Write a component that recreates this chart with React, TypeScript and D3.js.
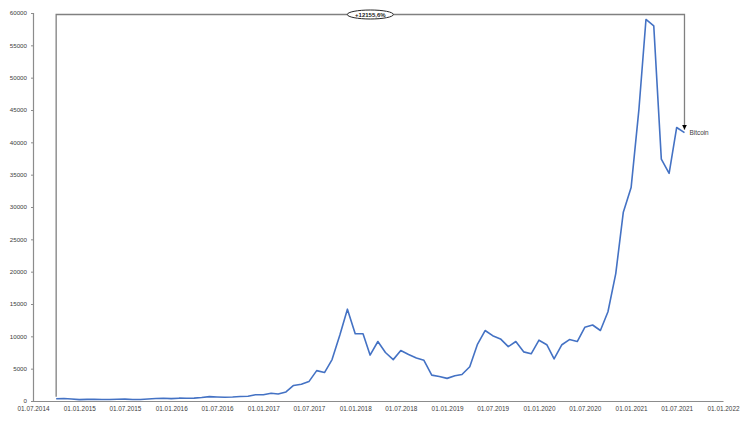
import React, { useEffect, useRef } from 'react';
import * as d3 from 'd3';

// monthly points, first one is Oct 2014
const startMonth = '2014-10-01';
const btcValues = [
  338.62, 378, 320, 217, 254, 244, 236, 230, 263, 284, 230, 236,
  314, 377, 430, 368, 437, 416, 448, 531, 673, 624, 575, 609,
  701, 742, 964, 970, 1190, 1080, 1400, 2400, 2600, 3000, 4700, 4400,
  6400, 10200, 14200, 10400, 10400, 7100, 9200, 7500, 6400, 7800, 7200, 6650,
  6300, 4000, 3800, 3500, 3900, 4100, 5300, 8700, 10900, 10100, 9600, 8400,
  9200, 7600, 7300, 9400, 8700, 6500, 8700, 9500, 9200, 11400, 11750, 10900,
  13800, 19700, 29200, 33000, 45100, 59000, 58000, 37400, 35200, 42300, 41500,
];
const seriesName = 'Bitcoin';
const yTicks = [0, 5000, 10000, 15000, 20000, 25000, 30000, 35000, 40000, 45000, 50000, 55000, 60000];
const xDomain = ['2014-07-01', '2022-01-01'];

const App: React.FC = () => {
  const ref = useRef<SVGSVGElement | null>(null);

  useEffect(() => {
    if (!ref.current) return;
    const svg = d3.select(ref.current);
    svg.selectAll('*').remove();

    const parse = d3.timeParse('%Y-%m-%d');
    const start = parse(startMonth) as Date;
    const data = btcValues.map((v, i) => ({ date: d3.timeMonth.offset(start, i), value: v }));

    const left = 33, right = 723, top = 13, bottom = 401;
    const x = d3.scaleTime()
      .domain(xDomain.map((d) => parse(d) as Date))
      .range([left, right]);
    const y = d3.scaleLinear().domain([0, 60000]).range([bottom, top]);

    const font = '"Liberation Sans", Arial, sans-serif';

    // y axis
    const yAxis = svg.append('g')
      .attr('transform', `translate(${left},0)`)
      .call(d3.axisLeft(y).tickValues(yTicks).tickSize(2).tickPadding(4).tickFormat(d3.format('d')));
    yAxis.select('.domain').attr('stroke', '#8c8c8c').attr('stroke-width', 1.2);
    yAxis.selectAll('.tick line').attr('stroke', '#8c8c8c');
    yAxis.selectAll('text')
      .style('font-family', font)
      .style('font-size', '6.2px')
      .attr('fill', '#404040');

    // x axis
    const xAxis = svg.append('g')
      .attr('transform', `translate(0,${bottom})`)
      .call(d3.axisBottom(x).ticks(d3.timeMonth.every(6)).tickSize(0).tickPadding(5)
        .tickFormat((d) => d3.timeFormat('%d.%m.%Y')(d as Date)));
    xAxis.select('.domain').attr('stroke', '#8c8c8c').attr('stroke-width', 1.2);
    xAxis.selectAll('text')
      .style('font-family', font)
      .style('font-size', '6.4px')
      .attr('fill', '#404040');

    // bitcoin line
    const line = d3.line<{ date: Date; value: number }>()
      .x((d) => x(d.date))
      .y((d) => y(d.value));

    svg.append('path')
      .datum(data)
      .attr('d', line)
      .attr('fill', 'none')
      .attr('stroke', '#4472C4')
      .attr('stroke-width', 1.6)
      .attr('stroke-linejoin', 'round');

    // growth bracket
    const first = data[0];
    const last = data[data.length - 1];
    const x0 = x(first.date);
    const x1 = x(last.date);
    const yTop = y(60000) + 1.5;
    const pct = (last.value / first.value - 1) * 100;

    svg.append('defs').append('marker')
      .attr('id', 'arrow')
      .attr('viewBox', '0 0 10 10')
      .attr('refX', 10)
      .attr('refY', 5)
      .attr('markerWidth', 5)
      .attr('markerHeight', 5)
      .attr('markerUnits', 'userSpaceOnUse')
      .attr('orient', 'auto')
      .append('path')
      .attr('d', 'M0,0 L10,5 L0,10 Z')
      .attr('fill', '#000');

    svg.append('path')
      .attr('d', `M${x0},${y(first.value) - 2} V${yTop} H${x1} V${y(last.value) - 3}`)
      .attr('fill', 'none')
      .attr('stroke', '#808080')
      .attr('stroke-width', 1.3)
      .attr('marker-end', 'url(#arrow)');

    const mid = (x0 + x1) / 2;
    svg.append('ellipse')
      .attr('cx', mid)
      .attr('cy', yTop)
      .attr('rx', 23)
      .attr('ry', 4.5)
      .attr('fill', '#fff')
      .attr('stroke', '#262626')
      .attr('stroke-width', 1);

    svg.append('text')
      .attr('x', mid)
      .attr('y', yTop)
      .attr('dy', '0.35em')
      .attr('text-anchor', 'middle')
      .style('font-family', font)
      .style('font-size', '6px')
      .style('font-weight', 'bold')
      .attr('fill', '#1a1a1a')
      .text(`+${pct.toFixed(1).replace('.', ',')}%`);

    // series label
    svg.append('text')
      .attr('x', x1 + 5)
      .attr('y', y(last.value))
      .attr('dy', '0.35em')
      .style('font-family', font)
      .style('font-size', '6.4px')
      .attr('fill', '#404040')
      .text(seriesName);
  }, []);

  return (
    <svg
      ref={ref}
      width={756}
      height={426}
      style={{ position: 'absolute', left: 0, top: 0, background: '#fff' }}
    />
  );
};

export default App;
